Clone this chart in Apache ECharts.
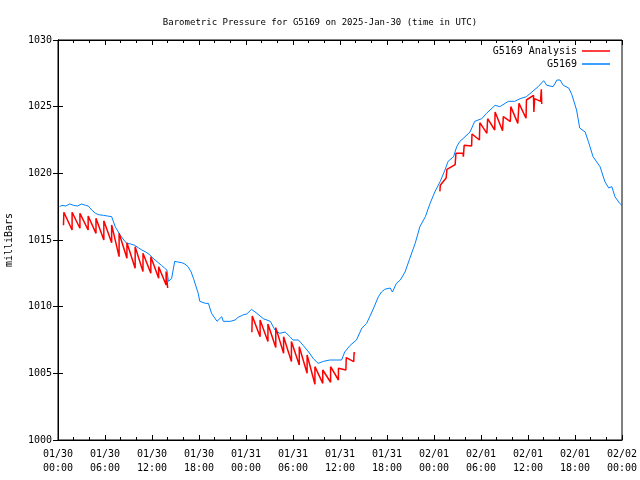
<!DOCTYPE html>
<html><head><meta charset="utf-8">
<script src="https://cdn.jsdelivr.net/npm/echarts@6/dist/echarts.min.js"></script>
<style>html,body{margin:0;padding:0;background:#fff}#c{width:640px;height:480px}</style>
</head><body><div id="c"></div>
<script>
// x values are hours since 2025-01-30 00:00 UTC
const dayLabels = ['01/30', '01/31', '02/01', '02/02'];

const observed = [
 [0.2,1017.5],[0.5,1017.6],[1.0,1017.55],[1.5,1017.7],[2.0,1017.6],[2.5,1017.55],[3.0,1017.7],[3.5,1017.6],
 [3.87,1017.55],[4.3,1017.25],[4.8,1017.0],[5.15,1016.9],[5.8,1016.85],[6.3,1016.8],[6.85,1016.75],[7.3,1016.0],
 [7.9,1015.4],[8.4,1015.0],[8.77,1014.75],[9.3,1014.7],[9.8,1014.6],[10.3,1014.4],[10.7,1014.25],[11.2,1014.1],
 [11.7,1013.9],[12.0,1013.7],[12.4,1013.5],[12.8,1013.3],[13.2,1013.1],[13.6,1012.9],[13.9,1012.75],[14.1,1011.9],
 [14.5,1012.1],[14.9,1013.4],[15.3,1013.35],[15.8,1013.3],[16.2,1013.2],[16.6,1013.0],[17.0,1012.6],[17.3,1012.1],
 [17.5,1012.0],[17.9,1011.0],[18.1,1010.4],[18.8,1010.25],[19.2,1010.25],[19.6,1009.5],[20.3,1008.9],[20.9,1009.25],
 [21.1,1008.9],[22.0,1008.9],[22.6,1009.0],[23.0,1009.2],[23.7,1009.4],[24.1,1009.45],[24.7,1009.8],[25.4,1009.5],
 [26.2,1009.1],[27.1,1008.9],[27.7,1008.25],[28.3,1008.0],[29.0,1008.1],[29.6,1007.75],[30.0,1007.5],[30.7,1007.5],
 [31.3,1007.1],[32.0,1006.6],[32.6,1006.1],[33.2,1005.75],[33.9,1005.9],[34.7,1006.0],[35.6,1006.0],[36.2,1006.0],
 [36.6,1006.6],[37.3,1007.1],[38.1,1007.5],[38.8,1008.4],[39.4,1008.75],[39.8,1009.25],[40.3,1009.9],[40.9,1010.75],
 [41.3,1011.1],[41.7,1011.3],[42.4,1011.4],[42.7,1011.1],[43.2,1011.75],[43.7,1012.0],[44.3,1012.6],[44.9,1013.6],
 [45.6,1014.75],[46.2,1016.0],[46.9,1016.75],[47.5,1017.75],[48.1,1018.6],[48.8,1019.4],[49.4,1020.25],[49.8,1020.9],
 [50.5,1021.25],[50.9,1022.0],[51.3,1022.4],[51.7,1022.6],[52.6,1023.1],[53.2,1023.9],[54.1,1024.1],[54.7,1024.5],
 [55.8,1025.1],[56.4,1025.0],[57.5,1025.4],[58.3,1025.4],[59.0,1025.6],[59.8,1025.75],[60.5,1026.1],[61.3,1026.5],
 [62.0,1026.95],[62.4,1026.6],[63.2,1026.5],[63.7,1027.0],[64.1,1027.0],[64.5,1026.6],[65.2,1026.4],[65.6,1025.9],
 [66.2,1024.75],[66.6,1023.4],[67.3,1023.1],[67.7,1022.4],[68.3,1021.25],[69.2,1020.5],[69.8,1019.4],[70.3,1018.9],
 [70.7,1019.0],[71.1,1018.25],[71.7,1017.75],[72.0,1017.6]
];

const analysisRun1 = [
 [0.7,1016.1],[0.75,1017.08],[1.8,1015.75],[1.8,1017.08],[2.8,1015.88],[2.8,1017.0],[3.85,1015.75],[3.85,1016.8],
 [4.85,1015.5],[4.85,1016.63],[5.85,1015.0],[5.85,1016.45],[6.85,1014.8],[6.85,1016.13],[7.8,1013.75],[7.8,1015.5],
 [8.8,1013.63],[8.8,1014.8],[9.85,1012.88],[9.85,1014.5],[10.85,1012.63],[10.85,1014.0],[11.85,1012.5],[11.85,1013.75],
 [12.85,1012.13],[12.85,1013.0],[13.8,1011.63],[13.8,1012.63],[14.0,1011.4]
];
const analysisRun2 = [
 [24.75,1008.08],[24.8,1009.3],[25.8,1007.75],[25.8,1009.0],[26.8,1007.38],[26.8,1008.7],[27.8,1006.93],[27.8,1008.43],
 [28.8,1006.5],[28.8,1007.75],[29.8,1005.88],[29.8,1007.38],[30.8,1005.63],[30.8,1007.0],[31.8,1005.0],[31.8,1006.38],
 [32.8,1004.18],[32.8,1005.5],[33.8,1004.25],[33.8,1005.25],[34.8,1004.33],[34.8,1005.5],[35.8,1004.5],[35.8,1005.38],
 [36.75,1005.25],[36.8,1006.18],[37.75,1005.88],[37.8,1006.58],[37.9,1006.48]
];
const analysisRun3 = [
 [48.75,1018.65],[48.8,1019.1],[49.55,1019.65],[49.65,1020.3],[50.7,1020.65],[50.8,1021.5],[51.7,1021.5],[51.75,1021.25],
 [51.85,1022.1],[52.8,1022.05],[52.85,1022.95],[53.8,1022.5],[53.85,1023.8],[54.75,1023.0],[54.85,1024.1],[55.75,1023.25],
 [55.8,1024.6],[56.75,1023.2],[56.85,1024.25],[57.75,1023.88],[57.8,1025.0],[58.7,1023.75],[58.85,1025.25],[59.75,1024.13],
 [59.8,1025.5],[60.7,1025.85],[60.75,1024.6],[60.85,1025.6],[61.6,1025.4],[61.7,1026.3],[61.75,1025.2]
];

const analysis = [].concat(analysisRun1, [[20, null]], analysisRun2, [[43, null]], analysisRun3);

const FONT = 'DejaVu Sans Mono';
function fmtX(v) {
  const d = dayLabels[Math.floor(v / 24)];
  const h = String(v % 24).padStart(2, '0');
  return d + '\n' + h + ':00';
}
const tickStyle = {color: '#000', width: 1};
const baseX = {
  type: 'value', min: 0, max: 72, interval: 6,
  axisLine: {show: true, lineStyle: {color: '#000', width: 1}},
  axisTick: {show: true, inside: true, length: 5, lineStyle: tickStyle},
  minorTick: {show: true, splitNumber: 3, length: 3, lineStyle: tickStyle},
  splitLine: {show: false}
};
const baseY = {
  type: 'value', min: 1000, max: 1030, interval: 5,
  axisLine: {show: true, lineStyle: {color: '#000', width: 1}},
  axisTick: {show: true, inside: true, length: 5, lineStyle: tickStyle},
  splitLine: {show: false}
};
const legendBase = {right: 30, padding: 0, align: 'right', icon: 'rect', itemWidth: 28, itemHeight: 1.5,
  textStyle: {fontFamily: FONT, fontSize: 10, color: '#000'}};

const chart = echarts.init(document.getElementById('c'), null, {renderer: 'canvas'});
chart.setOption({
  animation: false,
  backgroundColor: '#fff',
  textStyle: {fontFamily: FONT},
  title: {
    text: 'Barometric Pressure for G5169 on 2025-Jan-30 (time in UTC)',
    left: 'center', top: 13,
    textStyle: {fontFamily: FONT, fontSize: 9, fontWeight: 'normal', color: '#000'}
  },
  legend: [
    Object.assign({data: ['G5169 Analysis'], top: 46}, legendBase),
    Object.assign({data: ['G5169'], top: 59}, legendBase)
  ],
  grid: {left: 58, right: 18, top: 40, bottom: 40, show: true, borderColor: '#000', borderWidth: 1,
         containLabel: false, outerBoundsMode: 'none'},
  xAxis: [
    Object.assign({}, baseX, {position: 'bottom',
      axisLabel: {formatter: fmtX, color: '#000', fontFamily: FONT, fontSize: 10, lineHeight: 14, margin: 7}}),
    Object.assign({}, baseX, {position: 'top', axisLabel: {show: false}})
  ],
  yAxis: [
    Object.assign({}, baseY, {position: 'left', name: 'milliBars', nameLocation: 'middle', nameGap: 44,
      nameTextStyle: {fontFamily: FONT, fontSize: 10, color: '#000'},
      axisLabel: {color: '#000', fontFamily: FONT, fontSize: 10, margin: 6, formatter: v => String(v)}}),
    Object.assign({}, baseY, {position: 'right', axisLabel: {show: false}})
  ],
  series: [
    {name: 'G5169', type: 'line', data: observed, symbol: 'none', showSymbol: false,
     lineStyle: {color: '#0080ff', width: 1}, itemStyle: {color: '#0080ff'}, z: 2},
    {name: 'G5169 Analysis', type: 'line', data: analysis, symbol: 'none', showSymbol: false, connectNulls: false,
     lineStyle: {color: '#ff0000', width: 1.5}, itemStyle: {color: '#ff0000'}, z: 3}
  ]
});
</script>
</body></html>
